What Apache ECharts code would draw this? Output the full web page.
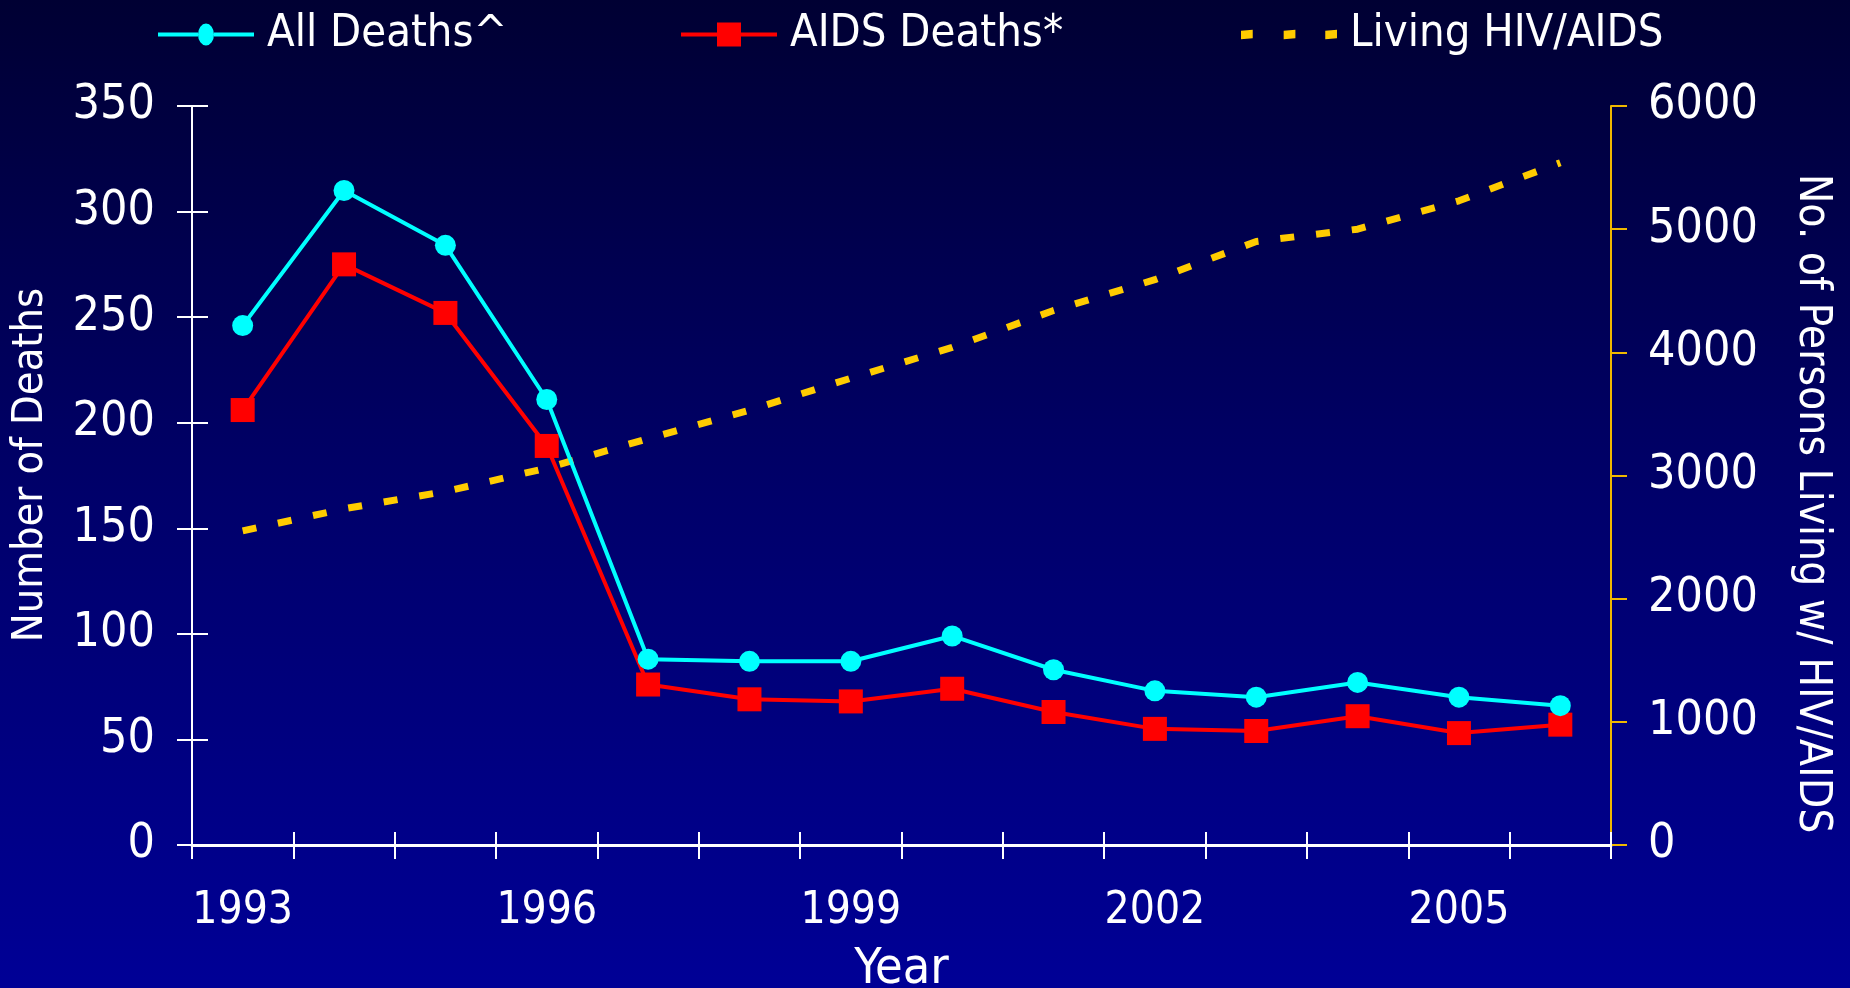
<!DOCTYPE html>
<html>
<head>
<meta charset="utf-8">
<script src="https://cdn.jsdelivr.net/npm/echarts@6/dist/echarts.min.js"></script>
<style>
html,body{margin:0;padding:0;}
#chart{width:1850px;height:988px;}
</style>
</head>
<body>
<div id="chart"></div>
<script>
const years = ['1993','1994','1995','1996','1997','1998','1999','2000','2001','2002','2003','2004','2005','2006'];
const allDeaths = [246, 310, 284, 211, 88, 87, 87, 99, 83, 73, 70, 77, 70, 66];
const aidsDeaths = [206, 275, 252, 189, 76, 69, 68, 74, 63, 55, 54, 61, 53, 57];
const livingHIV = [2550, 2730, 2870, 3060, 3300, 3530, 3790, 4040, 4340, 4590, 4900, 5000, 5230, 5540];
const leftTicks = {min: 0, max: 350, interval: 50};
const rightTicks = {min: 0, max: 6000, interval: 1000};

const FONT = '"DejaVu Sans Condensed", "Liberation Sans", sans-serif';
const ICON_ALL = 'path://M0,9H40V13H0Z M56,9H96V13H56Z M40,11A8,11 0 1,1 56,11A8,11 0 1,1 40,11Z';
const ICON_AIDS = 'path://M0,10H37V14H0Z M59,10H96V14H59Z M36,0H60V24H36Z';
const ICON_LIVING = 'path://M0,1L11,0L11,8L0,9Z M40,1L51,0L51,8L40,9Z M79,1L90,0L90,8L79,9Z';

const legendBase = {
  top: 7, itemWidth: 96, itemHeight: 24,
  textStyle: {color: '#ffffff', fontSize: 45, fontFamily: FONT, padding: [0, 0, 0, 8]}
};

const chart = echarts.init(document.getElementById('chart'));
chart.setOption({
  backgroundColor: {
    type: 'linear', x: 0, y: 0, x2: 0, y2: 1,
    colorStops: [
      {offset: 0, color: '#000033'},
      {offset: 0.5, color: '#00006a'},
      {offset: 1, color: '#000096'}
    ]
  },
  animation: false,
  textStyle: {fontFamily: FONT},
  legend: [
    Object.assign({}, legendBase, {left: 153, data: [{name: 'All Deaths^', icon: ICON_ALL, itemStyle: {color: '#00ffff'}}]}),
    Object.assign({}, legendBase, {left: 676, data: [{name: 'AIDS Deaths*', icon: ICON_AIDS, itemStyle: {color: '#ff0000'}}]}),
    Object.assign({}, legendBase, {left: 1236, data: [{name: 'Living HIV/AIDS', icon: ICON_LIVING, itemStyle: {color: '#ffcc00'}}]})
  ],
  grid: {left: 192, right: 239, top: 106, bottom: 143, containLabel: false, outerBoundsMode: 'none'},
  xAxis: [{
    type: 'category', data: years, boundaryGap: true,
    name: 'Year', nameLocation: 'middle', nameGap: 100,
    nameTextStyle: {color: '#ffffff', fontSize: 50, fontFamily: FONT},
    axisLine: {lineStyle: {color: '#ffffff', width: 3}},
    axisTick: {show: true, interval: 0, length: 14, lineStyle: {color: '#ffffff', width: 2}},
    axisLabel: {interval: 2, color: '#ffffff', fontSize: 44, fontFamily: FONT, margin: 45}
  }, {
    type: 'category', data: years, boundaryGap: true, position: 'bottom',
    axisLine: {show: false},
    axisTick: {show: true, inside: true, interval: 0, length: 13, lineStyle: {color: '#ffffff', width: 2}},
    axisLabel: {show: false}
  }],
  yAxis: [{
    type: 'value', position: 'left',
    min: leftTicks.min, max: leftTicks.max, interval: leftTicks.interval,
    name: 'Number of Deaths', nameLocation: 'middle', nameGap: 140,
    nameTextStyle: {color: '#ffffff', fontSize: 43, fontFamily: FONT, padding: [0, 0, 0, 21]},
    splitLine: {show: false},
    axisLine: {show: true, lineStyle: {color: '#ffffff', width: 2}},
    axisTick: {show: true, length: 15, lineStyle: {color: '#ffffff', width: 2}},
    axisLabel: {color: '#ffffff', fontSize: 48, fontFamily: FONT, margin: 37}
  }, {
    type: 'value', position: 'right',
    min: rightTicks.min, max: rightTicks.max, interval: rightTicks.interval,
    name: 'No. of Persons Living w/ HIV/AIDS', nameLocation: 'middle', nameGap: 178, nameRotate: -90,
    nameTextStyle: {color: '#ffffff', fontSize: 44, fontFamily: FONT, padding: [0, 0, 0, 56]},
    splitLine: {show: false},
    axisLine: {show: true, lineStyle: {color: '#f0b800', width: 2}},
    axisTick: {show: true, length: 16, lineStyle: {color: '#f0b800', width: 2}},
    axisLabel: {color: '#ffffff', fontSize: 48, fontFamily: FONT, margin: 37, formatter: function (v) { return String(v); }}
  }, {
    type: 'value', position: 'left',
    min: leftTicks.min, max: leftTicks.max, interval: leftTicks.interval,
    splitLine: {show: false},
    axisLine: {show: false},
    axisTick: {show: true, inside: true, length: 16, lineStyle: {color: '#ffffff', width: 2}},
    axisLabel: {show: false}
  }],
  series: [{
    name: 'Living HIV/AIDS', type: 'line', yAxisIndex: 1, data: livingHIV,
    symbol: 'none', z: 1,
    lineStyle: {color: '#ffcc00', width: 7, type: [14, 22]},
    itemStyle: {color: '#ffcc00'}
  }, {
    name: 'AIDS Deaths*', type: 'line', yAxisIndex: 0, data: aidsDeaths,
    symbol: 'rect', symbolSize: 24, z: 3,
    lineStyle: {color: '#ff0000', width: 4},
    itemStyle: {color: '#ff0000'}
  }, {
    name: 'All Deaths^', type: 'line', yAxisIndex: 0, data: allDeaths,
    symbol: 'circle', symbolSize: 21, z: 4,
    lineStyle: {color: '#00ffff', width: 4},
    itemStyle: {color: '#00ffff'}
  }]
});
</script>
</body>
</html>
